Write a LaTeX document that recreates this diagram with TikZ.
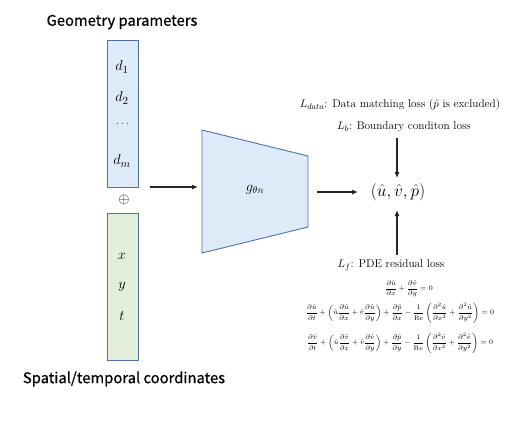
\documentclass[tikz,border=0pt]{standalone}
\usepackage{amsmath}
\usepackage{fontspec}
\newfontfamily\labelsans[FakeBold=0.6]{Noto Sans CJK SC}
\usetikzlibrary{arrows.meta}
\definecolor{boxblue}{HTML}{DEEAF7}
\definecolor{boxgreen}{HTML}{E2EFDA}
\definecolor{edgeblue}{HTML}{4F73A8}
\tikzset{
  colbox/.style={draw=edgeblue, line width=0.9pt, minimum width=31pt, minimum height=147pt, inner sep=0pt},
  bluebox/.style={colbox, fill=boxblue},
  greenbox/.style={colbox, fill=boxgreen},
  ttl/.style={font=\labelsans\fontsize{14.8}{17}\selectfont, inner sep=0pt},
  entry/.style={font=\fontsize{15}{17}\selectfont, inner sep=0pt},
  loss/.style={font=\fontsize{11.3}{13}\selectfont, inner sep=0pt},
  eqn/.style={font=\fontsize{6.8}{8}\selectfont, inner sep=0pt},
  arr/.style={-{Latex[length=6pt,width=5pt]}, line width=1.1pt, black!85},
}
\begin{document}
\begin{tikzpicture}[x=1pt,y=-1pt]
\useasboundingbox (0,0) rectangle (515,421);
\fill[white] (0,0) rectangle (515,421);
% titles
\node[ttl] (gtitle) at (122,22) {Geometry parameters};
\node[ttl] (stitle) at (124,379) {Spatial/temporal coordinates};
% boxes
\node[bluebox] (geo) at (122.5,113.5) {};
\node[greenbox] (coord) at (122.5,286.5) {};
\node[entry] (d1) at (122,67) {$d_1$};
\node[entry] (d2) at (122,98) {$d_2$};
\node[font=\fontsize{11}{12}\selectfont, text=black!80, inner sep=0pt] (dd) at (122.5,124) {$\ldots$};
\node[entry] (dm) at (122,161) {$d_m$};
\node[entry] (xx) at (122,256) {$x$};
\node[entry] (yy) at (122,287) {$y$};
\node[entry] (tt) at (122,316) {$t$};
\node[font=\fontsize{15}{17}\selectfont, inner sep=0pt] (oplus) at (124,200) {$\oplus$};
% network
\draw[draw=edgeblue, fill=boxblue, line width=0.9pt] (202,130) -- (308,156) -- (308,227) -- (202,253) -- cycle;
\node[font=\fontsize{14}{16}\selectfont, inner sep=0pt] (net) at (255,190) {$g_{\theta n}$};
\coordinate (a1s) at (150,187);
\coordinate (a1e) at (198,187);
\draw[arr] (a1s) -- (a1e);
% output
\node[font=\fontsize{16}{18}\selectfont, inner sep=0pt] (out) at (398,192) {$(\hat{u},\hat{v},\hat{p})$};
\coordinate (a2s) at (317,192);
\coordinate (a2e) at (358,192);
\draw[arr] (a2s) -- (a2e);
% losses
\node[loss] (ldata) at (400,105) {$L_{data}$: Data matching loss ($\hat{p}$ is excluded)};
\node[loss] (lb) at (404,127) {$L_b$: Boundary conditon loss};
\coordinate (a3s) at (397,138);
\coordinate (a3e) at (397,178);
\draw[arr] (a3s) -- (a3e);
\node[loss] (lf) at (391,265) {$L_f$: PDE residual loss};
\coordinate (a4s) at (397,255);
\coordinate (a4e) at (397,210);
\draw[arr] (a4s) -- (a4e);
\node[eqn] (eq1) at (409,289) {$\dfrac{\partial\hat{u}}{\partial x}+\dfrac{\partial\hat{v}}{\partial y}=0$};
\node[eqn] (eq2) at (400,313) {$\dfrac{\partial\hat{u}}{\partial t}+\left(\hat{u}\dfrac{\partial\hat{u}}{\partial x}+\hat{v}\dfrac{\partial\hat{u}}{\partial y}\right)+\dfrac{\partial\hat{p}}{\partial x}-\dfrac{1}{\mathrm{Re}}\left(\dfrac{\partial^2\hat{u}}{\partial x^2}+\dfrac{\partial^2\hat{u}}{\partial y^2}\right)=0$};
\node[eqn] (eq3) at (400,343) {$\dfrac{\partial\hat{v}}{\partial t}+\left(\hat{u}\dfrac{\partial\hat{v}}{\partial x}+\hat{v}\dfrac{\partial\hat{v}}{\partial y}\right)+\dfrac{\partial\hat{p}}{\partial y}-\dfrac{1}{\mathrm{Re}}\left(\dfrac{\partial^2\hat{v}}{\partial x^2}+\dfrac{\partial^2\hat{v}}{\partial y^2}\right)=0$};
\end{tikzpicture}
\end{document}
